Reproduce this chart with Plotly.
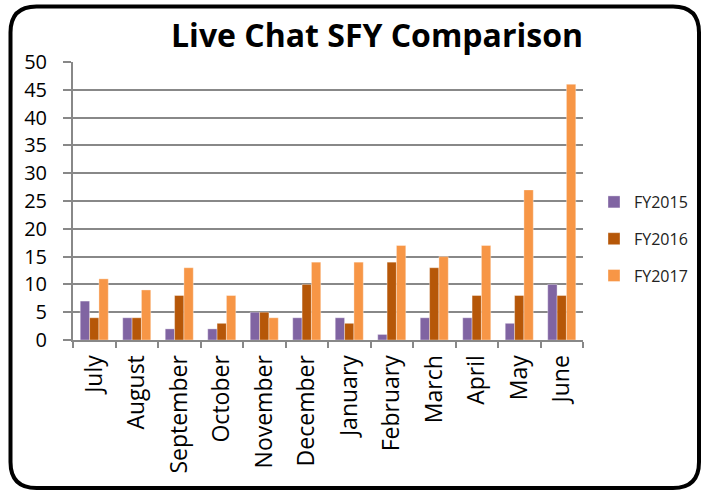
import plotly.graph_objects as go

months = ["July", "August", "September", "October", "November", "December",
          "January", "February", "March", "April", "May", "June"]
fy2015 = [7, 4, 2, 2, 5, 4, 4, 1, 4, 4, 3, 10]
fy2016 = [4, 4, 8, 3, 5, 10, 3, 14, 13, 8, 8, 8]
fy2017 = [11, 9, 13, 8, 4, 14, 14, 17, 15, 17, 27, 46]
series_names = ["FY2015", "FY2016", "FY2017"]
colors = ["#8064A2", "#B65708", "#F79646"]

W, H = 706, 494
L, R, T, B = 73, 583, 62, 340

fig = go.Figure()
for name, vals, c in zip(series_names, [fy2015, fy2016, fy2017], colors):
    fig.add_trace(go.Bar(x=months, y=vals, name=name, marker_color=c,
                         marker_line=dict(color="rgba(255,255,255,0.6)", width=0.6),
                         legendgroup=name))

def px(x):
    return (x - L) / (R - L)

def py(y):
    return (B - y) / (B - T)

# rounded frame
x0, x1, y0, y1, r = 10.5, 699, 6.5, 488, 26
path = (f"M {px(x0+r)} {py(y0)} L {px(x1-r)} {py(y0)} "
        f"Q {px(x1)} {py(y0)} {px(x1)} {py(y0+r)} "
        f"L {px(x1)} {py(y1-r)} Q {px(x1)} {py(y1)} {px(x1-r)} {py(y1)} "
        f"L {px(x0+r)} {py(y1)} Q {px(x0)} {py(y1)} {px(x0)} {py(y1-r)} "
        f"L {px(x0)} {py(y0+r)} Q {px(x0)} {py(y0)} {px(x0+r)} {py(y0)} Z")
fig.add_shape(type="path", path=path, xref="paper", yref="paper",
              line=dict(color="black", width=4), layer="above")

fig.update_layout(
    width=W, height=H,
    margin=dict(l=L, r=W - R, t=T, b=H - B, pad=0),
    paper_bgcolor="white", plot_bgcolor="white",
    barmode="group", bargap=0.34, bargroupgap=0,
    font=dict(family="Open Sans, Lato, sans-serif", color="black"),
    title=dict(text="<b>Live Chat SFY Comparison</b>", x=377 / W, xanchor="center",
               xref="container", y=1 - 36 / H, yanchor="middle",
               font=dict(size=32, family="Open Sans", color="black")),
    legend=dict(x=px(594), xanchor="left", y=py(185), yanchor="top",
                font=dict(size=16, family="Open Sans", color="#222"),
                tracegroupgap=13, bgcolor="rgba(0,0,0,0)"),
    showlegend=True,
)
fig.update_xaxes(showline=True, linecolor="#888", linewidth=2,
                 ticks="outside", tickson="boundaries", ticklen=6, tickwidth=2, tickcolor="#888",
                 tickangle=-90, ticklabelstandoff=4,
                 tickfont=dict(size=23, family="Open Sans"), showgrid=False)
fig.update_yaxes(range=[0, 50], dtick=5, showline=True, linecolor="#888", linewidth=2,
                 showgrid=True, gridcolor="#888", gridwidth=2,
                 ticks="outside", ticklen=8, tickwidth=2, tickcolor="#888",
                 ticklabelstandoff=12,
                 tickfont=dict(size=20, family="Open Sans"), zeroline=False)

fig.write_html("out.html", config={"displayModeBar": False},
               post_script="document.body.style.margin='0';document.body.style.overflow='hidden';")
